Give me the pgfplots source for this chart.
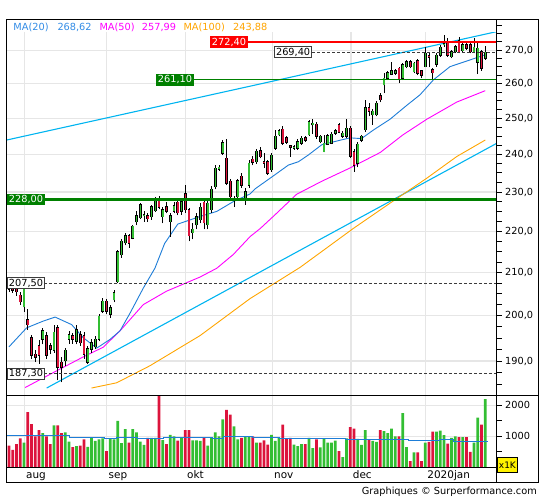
\documentclass[border=0pt]{standalone}
\usepackage{pgfplots}
\pgfplotsset{compat=1.18}
\usepackage{pgfplotstable}
\usepackage{fontspec}
\setmainfont{DejaVu Sans}
\definecolor{upg}{RGB}{51,190,51}
\definecolor{dnr}{RGB}{220,20,60}
\definecolor{ma20}{RGB}{30,125,215}
\definecolor{ma20t}{RGB}{50,140,230}
\definecolor{trend}{RGB}{0,180,240}
\definecolor{ma50}{RGB}{255,0,255}
\definecolor{ma100}{RGB}{255,165,0}
\definecolor{gridc}{RGB}{230,230,230}
\definecolor{lvl}{RGB}{0,128,0}
\definecolor{dashc}{RGB}{60,60,60}
\newcommand\lab{\fontsize{9.8}{11}\selectfont}
\begin{document}
\pgfplotstableread{
i O H L C V
4 202.0 207.0 200.8 206.2 800
9 194.8 197.3 193.6 196.6 1100
12 192.3 198.0 191.8 196.3 1350
15 190.1 192.9 189.0 192.3 1130
16 194.8 196.6 193.8 195.8 830
18 194.3 198.0 193.6 196.9 680
21 189.8 193.3 189.4 192.7 660
22 192.6 194.8 191.8 194.0 950
23 193.1 195.5 192.6 194.8 850
24 194.8 200.3 194.3 199.9 900
25 201.0 204.0 200.6 203.3 930
27 200.3 202.5 199.5 201.8 930
28 203.6 205.8 203.0 205.2 900
29 207.8 215.5 207.5 215.0 1500
30 214.2 218.0 213.5 217.5 780
31 217.2 219.5 216.5 218.9 1230
33 218.3 221.6 218.0 221.2 1230
34 222.4 225.0 221.5 223.9 1130
35 223.4 227.1 223.0 226.7 830
36 223.9 225.0 222.4 224.2 720
38 223.7 226.7 222.9 226.2 950
39 225.2 228.8 224.8 228.0 950
41 223.7 226.2 222.0 225.4 880
43 222.4 224.5 218.7 223.9 1050
44 225.0 227.5 224.5 226.4 1000
46 225.0 228.0 224.2 227.5 950
49 219.7 222.0 218.0 220.5 870
50 221.6 224.6 220.5 223.7 870
51 222.9 227.1 222.0 226.1 850
53 221.6 228.0 220.5 227.1 700
54 225.4 231.5 224.6 230.7 950
55 231.4 237.0 230.7 236.3 1130
56 236.0 237.2 235.6 236.5 1000
57 240.3 243.8 239.8 243.1 1550
60 227.8 229.0 226.1 228.2 1320
61 228.8 233.5 228.0 233.0 900
63 228.3 231.0 226.7 230.1 1000
64 231.7 238.5 231.0 237.6 1000
66 238.0 241.5 237.5 240.8 800
70 235.8 240.3 235.3 239.8 1050
71 241.7 246.7 241.2 244.9 850
72 245.3 247.0 244.9 246.5 950
76 241.7 242.6 241.2 242.1 730
77 241.7 244.2 241.2 243.5 680
78 243.0 244.9 242.6 244.4 750
80 245.3 249.5 245.0 249.0 950
81 248.1 249.7 245.5 248.6 620
83 243.5 245.3 243.0 244.9 640
84 240.7 245.3 240.5 243.0 930
85 242.8 245.5 242.5 245.1 800
86 243.0 246.0 242.8 245.5 800
87 245.8 247.0 245.3 246.5 860
89 244.9 246.3 244.4 245.8 330
90 244.9 249.7 244.4 247.2 930
93 237.6 243.5 236.5 242.8 920
94 243.9 245.3 243.3 244.9 720
95 246.7 255.3 246.2 252.9 1200
97 251.0 252.5 248.1 251.9 850
98 251.0 255.0 250.5 254.3 820
100 259.6 263.0 257.2 261.6 1170
101 261.6 263.8 261.0 263.2 1100
102 262.8 266.5 262.5 263.8 1250
103 263.0 264.3 262.5 263.8 1000
105 261.6 266.0 261.0 265.5 1750
106 265.0 267.0 264.5 266.5 650
108 263.5 266.5 263.0 266.0 480
111 265.0 271.1 264.8 269.1 800
114 265.7 269.0 265.0 268.5 1150
115 268.5 271.5 268.0 270.8 1180
116 271.6 274.7 271.0 272.0 1040
118 268.0 270.0 267.5 269.5 950
119 269.5 271.6 269.0 271.1 1000
121 269.8 272.1 269.5 271.6 970
124 269.5 273.6 269.0 270.8 800
125 266.3 272.6 262.8 270.5 1600
127 267.5 271.3 267.0 269.4 2200
}\up
\pgfplotstableread{
i O H L C V
0 207.0 208.0 205.5 206.0 700
1 206.5 207.2 205.2 205.8 560
2 206.0 206.8 204.5 205.5 750
3 204.7 205.5 202.5 203.2 930
5 199.1 201.4 196.9 198.0 1780
6 195.1 195.8 190.5 191.2 1390
7 191.5 192.3 189.8 190.8 1000
8 193.3 194.5 189.4 191.2 1200
10 195.5 196.3 190.5 191.2 1000
11 193.3 194.0 191.5 192.6 750
13 197.3 198.0 185.9 188.7 1350
14 189.8 190.8 185.5 188.7 1100
17 195.5 196.2 193.8 194.8 650
19 195.8 196.6 193.3 194.0 700
20 195.5 196.3 190.5 191.5 900
26 203.3 203.8 200.3 201.0 520
32 218.9 219.3 216.0 217.1 800
37 223.9 224.5 222.4 223.2 950
40 227.8 229.0 225.5 226.1 2400
42 226.2 227.5 224.5 225.0 750
45 227.4 228.0 224.0 224.6 860
47 229.5 231.9 224.6 225.4 1200
48 225.4 226.0 217.5 218.9 1200
52 227.4 228.0 220.5 222.2 940
58 238.9 244.3 231.8 232.3 1850
59 232.8 233.5 228.0 228.7 1700
62 234.1 235.0 231.0 231.7 950
65 238.7 239.5 237.0 237.9 1000
67 240.9 242.1 238.9 239.4 800
68 238.0 240.3 236.3 237.6 870
69 238.0 238.5 234.5 234.9 730
73 246.9 247.7 242.6 243.0 1380
74 244.6 245.0 242.8 243.3 930
75 242.3 242.6 239.4 241.9 950
79 244.6 245.1 243.5 243.9 750
82 248.3 249.0 244.2 244.9 900
88 248.1 248.6 245.8 246.1 520
91 247.2 247.8 239.0 239.5 1300
92 240.7 241.5 235.3 237.0 1250
96 252.9 254.3 250.5 251.9 880
99 256.4 257.2 254.5 255.3 1200
104 264.5 265.0 260.1 261.3 1000
107 266.5 267.0 264.5 265.0 200
109 266.8 267.3 262.5 263.0 480
110 263.8 264.0 261.5 262.5 200
112 268.3 269.1 264.8 267.8 820
113 264.0 264.5 261.1 263.2 1150
117 272.1 273.6 268.0 268.5 760
120 272.9 274.0 269.0 269.5 970
122 271.6 272.1 270.1 270.6 970
123 271.6 272.1 269.0 269.5 500
126 269.5 270.1 263.8 264.5 1380
}\dn
\begin{tikzpicture}[x=1bp,y=1bp]
\path[use as bounding box] (0,0) rectangle (545,500);
\begin{axis}[
  at={(6.7bp,104.7bp)}, anchor=south west,
  scale only axis, width=490bp, height=376bp,
  xmin=-0.613, xmax=130.05,
  ymode=log, ymin=182.8, ymax=279.6,
  ytick={190,200,210,220,230,240,250,260,270},
  yticklabels={{190,0},{200,0},{210,0},{220,0},{230,0},{240,0},{250,0},{260,0},{270,0}},
  minor ytick={185,187.5,192.5,195,197.5,202.5,205,207.5,212.5,215,217.5,222.5,225,227.5,232.5,235,237.5,242.5,245,247.5,252.5,255,257.5,262.5,265,267.5,272.5,275,277.5},
  ytick pos=right,
  xtick={4.08,26.05,47,70.2,91.2,111.07}, xticklabels={},
  xtick style={draw=none},
  tick align=outside, major tick length=5bp, minor tick length=5bp,
  tick style={black, line width=0.9bp},
  grid=major, major grid style={gridc, line width=1.2bp},
  axis line style={line width=1.2bp},
  yticklabel style={font=\lab, anchor=west},
]
% moving averages and trend lines
\addplot[trend, line width=1.1bp, mark=none] coordinates {(-0.613,243.9) (130.05,275.7)};
\addplot[trend, line width=1.1bp, mark=none] coordinates {(10.05,184.3) (130.05,243.0)};
\addplot[ma100, line width=0.9bp, mark=none] coordinates {(22,184.3) (28.7,185.4) (37.6,189.0) (51,195.6) (64.3,203.9) (77.6,211.2) (91.8,220.7) (101.6,227.1) (111.4,233.6) (119.4,239.4) (127,243.9)};
\addplot[ma50, line width=0.9bp, mark=none] coordinates {(4.3,184.4) (12.7,187.9) (19.8,190.9) (25.1,193.0) (29.6,196.6) (35.8,202.5) (42,205.6) (50.9,208.9) (55.4,211.0) (59.8,214.3) (64.3,218.7) (67,220.7) (71,224.2) (76.7,229.4) (83.4,232.8) (90.9,236.3) (99,240.5) (105,245.3) (111.4,249.7) (119.4,254.6) (127,257.9)};
\addplot[ma20, line width=0.9bp, mark=none] coordinates {(0,193.1) (4.7,197.3) (9.2,198.8) (12.3,199.7) (16.7,198.0) (19.8,195.1) (23.4,192.8) (26.9,194.7) (29.6,196.6) (32.3,200.6) (35.8,206.3) (38.9,211.0) (41.5,217.0) (45,221.8) (50.9,223.7) (55.4,225.0) (59.8,227.5) (64.3,229.5) (65.6,230.8) (70.9,234.5) (74.5,237.1) (77.2,238.0) (79.8,239.8) (83.4,242.6) (86.9,243.5) (90.9,244.5) (94,244.3) (97.2,246.7) (101.6,249.7) (106,253.6) (109.6,256.7) (113.2,261.1) (117.6,265.0) (122.9,267.0) (127,268.6)};
% wicks
\addplot[forget plot, draw=none, mark=none, error bars/.cd, y dir=plus, y explicit, error mark=none, error bar style={draw=black, line width=0.9bp}] table[x=i, y=L, y error expr=\thisrow{H}-\thisrow{L}] {\up};
\addplot[forget plot, draw=none, mark=none, error bars/.cd, y dir=plus, y explicit, error mark=none, error bar style={draw=black, line width=0.9bp}] table[x=i, y=L, y error expr=\thisrow{H}-\thisrow{L}] {\dn};
% bodies
\addplot[forget plot, draw=none, mark=none, error bars/.cd, y dir=plus, y explicit, error mark=none, error bar style={draw=black, line width=2.9bp, shorten <=-0.5bp, shorten >=-0.5bp}] table[x=i, y=O, y error expr=\thisrow{C}-\thisrow{O}] {\up};
\addplot[forget plot, draw=none, mark=none, error bars/.cd, y dir=plus, y explicit, error mark=none, error bar style={draw=upg, line width=1.5bp}] table[x=i, y=O, y error expr=\thisrow{C}-\thisrow{O}] {\up};
\addplot[forget plot, draw=none, mark=none, error bars/.cd, y dir=plus, y explicit, error mark=none, error bar style={draw=black, line width=2.9bp, shorten <=-0.5bp, shorten >=-0.5bp}] table[x=i, y=C, y error expr=\thisrow{O}-\thisrow{C}] {\dn};
\addplot[forget plot, draw=none, mark=none, error bars/.cd, y dir=plus, y explicit, error mark=none, error bar style={draw=dnr, line width=1.5bp}] table[x=i, y=C, y error expr=\thisrow{O}-\thisrow{C}] {\dn};
% levels
\addplot[red, line width=2.4bp, mark=none] coordinates {(63.7,272.4) (131,272.4)};
\addplot[lvl, line width=1bp, mark=none] coordinates {(49.3,261.1) (131,261.1)};
\addplot[lvl, line width=2.4bp, mark=none] coordinates {(-1,228) (131,228)};
\addplot[dashc, line width=0.8bp, dash pattern=on 3bp off 2bp, mark=none] coordinates {(80.8,269.4) (131,269.4)};
\addplot[dashc, line width=0.8bp, dash pattern=on 3bp off 2bp, mark=none] coordinates {(9.3,207.5) (131,207.5)};
\addplot[dashc, line width=0.8bp, dash pattern=on 3bp off 2bp, mark=none] coordinates {(9.3,187.3) (131,187.3)};
\node[fill=red, text=white, inner sep=1.6bp, anchor=east, font=\lab] at (axis cs:63.7,272.4) {272,40};
\node[fill=lvl, text=white, inner sep=1.6bp, anchor=east, font=\lab] at (axis cs:49.3,261.1) {261,10};
\node[fill=lvl, text=white, inner sep=1.6bp, anchor=west, font=\lab] at (axis cs:-0.5,228) {228,00};
\node[fill=white, draw=dashc, line width=0.8bp, inner sep=1.4bp, anchor=east, font=\lab] at (axis cs:80.8,269.4) {269,40};
\node[fill=white, draw=dashc, line width=0.8bp, inner sep=1.4bp, anchor=west, font=\lab] at (axis cs:-0.5,207.5) {207,50};
\node[fill=white, draw=dashc, line width=0.8bp, inner sep=1.4bp, anchor=west, font=\lab] at (axis cs:-0.5,187.3) {187,30};
\end{axis}
\begin{axis}[
  at={(6.7bp,32.7bp)}, anchor=south west,
  scale only axis, width=490bp, height=72bp,
  xmin=-0.613, xmax=130.05,
  ymin=0, ymax=2323,
  ytick={1000,2000}, yticklabels={1000,2000},
  minor ytick={500,1500},
  ytick pos=right,
  xtick={4.08,26.05,47,70.2,91.2,111.07}, xticklabels={},
  xtick style={draw=none},
  tick align=outside, major tick length=5bp, minor tick length=5bp,
  tick style={black, line width=0.9bp},
  grid=major, major grid style={gridc, line width=1.2bp},
  axis line style={line width=1.2bp},
  yticklabel style={font=\lab, anchor=west},
]
\addplot[ybar, bar width=2.8bp, bar shift=0pt, fill=upg, draw=none] table[x=i, y=V] {\up};
\addplot[ybar, bar width=2.8bp, bar shift=0pt, fill=dnr, draw=none] table[x=i, y=V] {\dn};
\addplot[const plot, ma20, line width=0.9bp, mark=none] coordinates {(-0.6,1032) (4.1,1022) (16.2,968) (25.5,925) (28.7,968) (34.3,925) (41.3,968) (54.3,935) (57.1,989) (65,968) (72,925) (89.7,903) (106.4,871) (114.8,892) (118.5,849) (127.8,849)};
\end{axis}
% header band and texts
\fill[white] (7.4,468.2) rectangle (496,480.1);
\begin{scope}[every node/.style={anchor=base west, inner sep=0, font=\lab}]
\node[text=ma20t] at (13.3,469.5) {MA(20)};
\node[text=ma20t] at (57.3,469.5) {268,62};
\node[text=ma50] at (99.3,469.5) {MA(50)};
\node[text=ma50] at (141.7,469.5) {257,99};
\node[text=ma100] at (183.3,469.5) {MA(100)};
\node[text=ma100] at (233,469.5) {243,88};
\end{scope}
% frames
\draw[line width=1.2bp] (6.7,17.7) rectangle (538.3,480.7);
\draw[line width=1.2bp] (496.7,17.7) -- (496.7,480.7);
\draw[line width=1.2bp] (6.7,104.7) -- (538.3,104.7);
\draw[line width=1.2bp] (6.7,32.7) -- (496.7,32.7);
% month labels
\begin{scope}[every node/.style={anchor=base west, inner sep=0, font=\fontsize{10.5}{12}\selectfont}]
\node at (26,21.5) {aug};
\node at (108.5,21.5) {sep};
\node at (187,21.5) {okt};
\node at (274,21.5) {nov};
\node at (352.7,21.5) {dec};
\node at (427.2,21.5) {2020jan};
\end{scope}
\node[fill=yellow, draw=black, line width=0.8bp, inner sep=0.5bp, anchor=north west, font=\fontsize{9}{10}\selectfont, minimum width=20.6bp, minimum height=14.4bp] at (496.7,42.7) {x1K};
\node[anchor=base east, inner sep=0, font=\lab] at (537,5) {Graphiques © Surperformance.com};
\end{tikzpicture}
\end{document}
